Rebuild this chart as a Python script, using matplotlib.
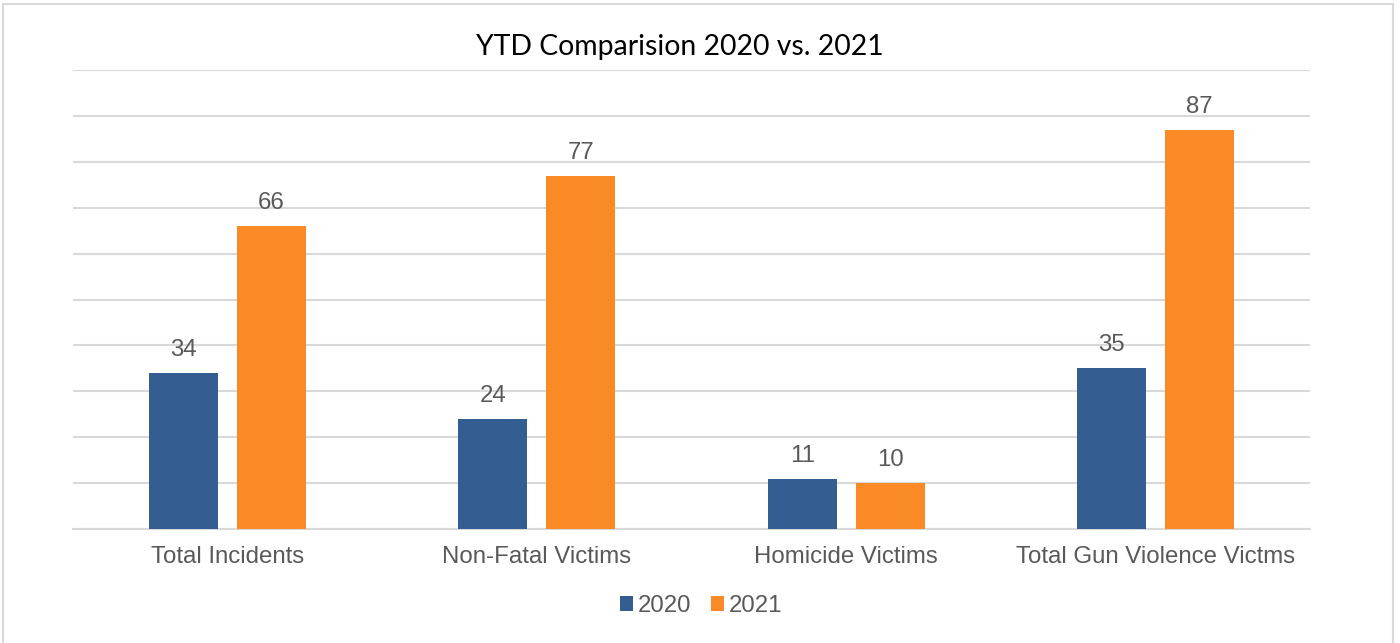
import matplotlib
matplotlib.use("Agg")
import matplotlib.pyplot as plt
import numpy as np
from matplotlib.patches import Rectangle

categories = ["Total Incidents", "Non-Fatal Victims", "Homicide Victims", "Total Gun Violence Victms"]
series_names = ["2020", "2021"]
values_2020 = [34, 24, 11, 35]
values_2021 = [66, 77, 10, 87]
title = "YTD Comparision 2020 vs. 2021"

blue = "#345E91"
orange = "#F98A25"
grid_c = "#D9D9D9"
text_c = "#595959"
fs = 17.3

fig = plt.figure(figsize=(14, 6.43), dpi=100)
W, H = 1400, 643
ax = fig.add_axes([73 / W, 1 - 529 / H, (1310 - 73) / W, (529 - 70) / H])

x = np.arange(len(categories))
bw = 0.223
off = 0.142
b1 = ax.bar(x - off, values_2020, bw, color=blue, label=series_names[0], zorder=3)
b2 = ax.bar(x + off, values_2021, bw, color=orange, label=series_names[1], zorder=3)

for bars, vals in ((b1, values_2020), (b2, values_2021)):
    for r, v in zip(bars, vals):
        ax.annotate(str(v), (r.get_x() + r.get_width() / 2, v), xytext=(0, 12.2),
                    textcoords="offset points", ha="center", va="baseline",
                    fontsize=fs, color=text_c, family="Liberation Sans")

ax.set_xlim(-0.5, len(categories) - 0.5)
ax.set_ylim(0, 100)
ax.set_yticks(np.arange(0, 101, 10))
ax.yaxis.grid(True, color=grid_c, linewidth=1.5, zorder=0)
ax.tick_params(axis="y", length=0, labelleft=False)
ax.set_xticks(x)
ax.set_xticklabels(categories, fontsize=fs, color=text_c, family="Liberation Sans")
ax.tick_params(axis="x", length=0, pad=12.5)
for s in ["top", "right", "left"]:
    ax.spines[s].set_visible(False)
ax.spines["bottom"].set_color(grid_c)
ax.spines["bottom"].set_linewidth(1.5)

fig.text(680 / W, 1 - 47 / H, title, ha="center", va="center", fontsize=20.4,
         color="#000000", family="Lato")

leg = fig.legend(handles=[b1, b2], loc="center", bbox_to_anchor=(701 / W, 1 - 606 / H),
                 ncol=2, frameon=False, handlelength=0.54, handleheight=0.54,
                 handletextpad=0.2, columnspacing=0.8,
                 prop={"family": "Liberation Sans", "size": fs})
for t in leg.get_texts():
    t.set_color(text_c)

fig.patches.append(Rectangle((3 / W, -0.01), (1393 - 3) / W, 1 - 4 / H + 0.01,
                             transform=fig.transFigure, fill=False,
                             edgecolor=grid_c, linewidth=1.5))

fig.savefig("out.png", dpi=100)
